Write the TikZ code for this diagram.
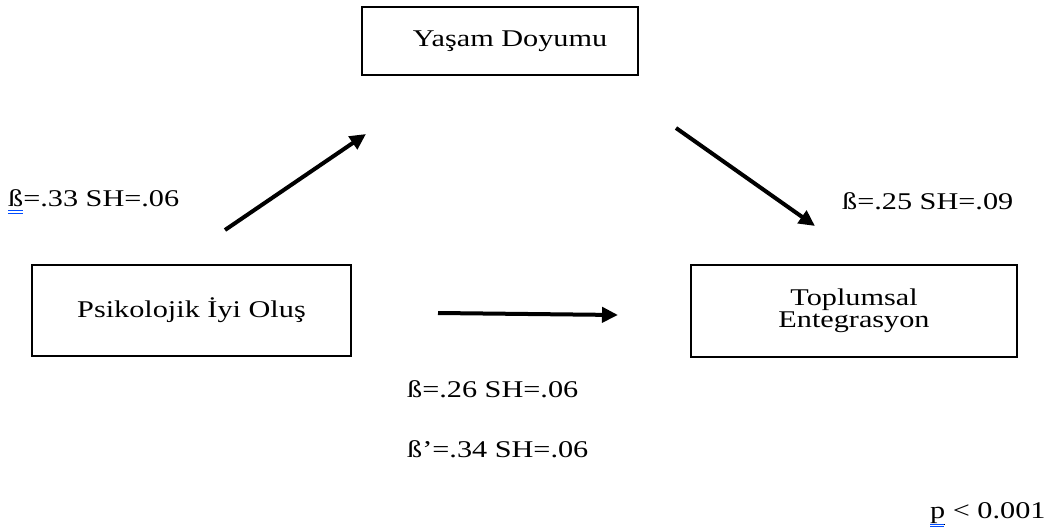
\documentclass[tikz,border=0pt]{standalone}
\usepackage{fontspec}
\setmainfont[FakeStretch=1.26]{Liberation Serif}
\usetikzlibrary{arrows.meta}
\begin{document}
\begin{tikzpicture}[x=1pt,y=-1pt,
  box/.style={draw=black,line width=2pt,rectangle,inner sep=0pt,align=center,
    font=\fontsize{24}{26}\selectfont},
  lbl/.style={anchor=base west,inner sep=0pt,font=\fontsize{24}{26}\selectfont},
  arr/.style={line width=4pt,-{Triangle[length=16pt,width=15pt]}},
  spell/.style={draw=blue!70!cyan,line width=0.8pt}]
\useasboundingbox (0,0) rectangle (1046,529);
\node[box,minimum width=276pt,minimum height=68pt] (yd) at (500,41) {\hspace*{20pt}Yaşam Doyumu};
\node[box,minimum width=319pt,minimum height=91pt] (pio) at (191.5,310.5) {\raisebox{-3pt}{Psikolojik İyi Oluş}};
\node[box,minimum width=326pt,minimum height=92pt] (te) at (854,311) {\raisebox{-4pt}{\begin{tabular}{@{}c@{}}Toplumsal\\[-4pt]Entegrasyon\end{tabular}}};
\coordinate (a1s) at (225,230);
\coordinate (a1e) at (366,134);
\coordinate (a2s) at (676,128);
\coordinate (a2e) at (815,226);
\coordinate (a3s) at (438,313);
\coordinate (a3e) at (618,315);
\draw[arr] (a1s) -- (a1e);
\draw[arr] (a2s) -- (a2e);
\draw[arr] (a3s) -- (a3e);
\node[lbl] (l1) at (8,207) {ß=.33 SH=.06};
\node[lbl] (l2) at (842,210) {ß=.25 SH=.09};
\node[lbl] (l3) at (407,397) {ß=.26 SH=.06};
\node[lbl] (l4) at (407,457) {ß’=.34 SH=.06};
\node[lbl] (l5) at (930,518) {\underline{p} < 0.001};
\draw[spell] (8,210.5) -- (23,210.5);
\draw[spell] (8,213) -- (23,213);
\draw[spell] (930,524) -- (944,524);
\draw[spell] (930,526.5) -- (944,526.5);
\end{tikzpicture}
\end{document}
